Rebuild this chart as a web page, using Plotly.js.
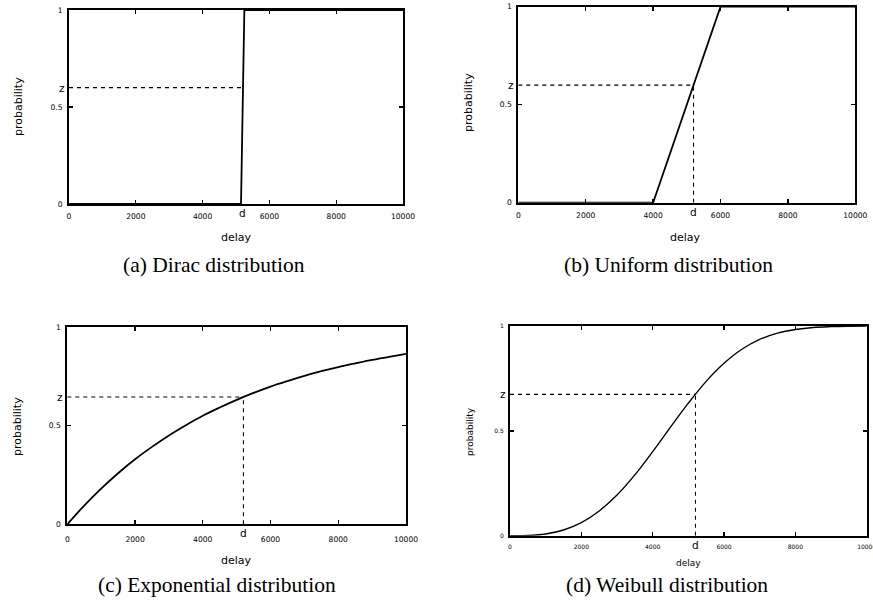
<!DOCTYPE html>
<html>
<head>
<meta charset="utf-8">
<script src="https://cdn.plot.ly/plotly-3.0.1.min.js"></script>
<style>html,body{margin:0;padding:0;background:#fff;overflow:hidden;}#chart{width:873px;height:609px;}</style>
</head>
<body>
<div id="chart"></div>
<script>
// ---- data ----
const diracX = [0, 5150, 5250, 10000];
const diracY = [0, 0, 1, 1];
const uniformX = [0, 4000, 6000, 10000];
const uniformY = [0, 0, 1, 1];
const expX = [0, 500, 1000, 1500, 2000, 2500, 3000, 3500, 4000, 4500, 5000, 5500, 6000, 6500, 7000, 7500, 8000, 8500, 9000, 9500, 10000];
const expY = [0, 0.095, 0.181, 0.259, 0.330, 0.393, 0.451, 0.503, 0.551, 0.593, 0.632, 0.667, 0.699, 0.727, 0.753, 0.777, 0.798, 0.817, 0.835, 0.850, 0.865];
const weibullX = [0, 500, 1000, 1500, 2000, 2500, 3000, 3500, 4000, 4500, 5000, 5500, 6000, 6500, 7000, 7500, 8000, 8500, 9000, 9500, 10000];
const weibullY = [0, 0.001, 0.008, 0.027, 0.062, 0.118, 0.194, 0.290, 0.401, 0.518, 0.632, 0.736, 0.822, 0.889, 0.936, 0.966, 0.983, 0.993, 0.997, 0.999, 1.0];
const dValues = [5200, 5200, 5200, 5200];
const zValues = [0.6, 0.6, 0.6465, 0.674];
const captions = ["(a) Dirac distribution", "(b) Uniform distribution", "(c) Exponential distribution", "(d) Weibull distribution"];
const xTickVals = [0, 2000, 4000, 6000, 8000, 10000];
const xTickText = ["0", "2000", "4000", "6000", "8000", "10000"];
const yTickVals = [0, 0.5, 1];
const yTickText = ["0", "0.5", "1"];
const xTitle = "delay";
const yTitle = "probability";

// ---- layout helpers ----
const W = 873, H = 609;
const px = v => v / W;
const py = v => 1 - v / H;

// plot boxes in pixels: [left, right, top, bottom]
const boxes = [
  [69, 403, 10, 204],
  [518.3, 855.3, 6.7, 202.7],
  [67.3, 406, 327.3, 524.3],
  [510, 866.7, 326, 535.7]
];
const tickFont = [7.6, 7.6, 7.6, 6];
const titleFont = [11, 11, 11, 9];
const curveW = [1.8, 1.8, 1.8, 1.4];
const yLabPos = [[18, 107], [468, 103], [17, 427], [470, 432]];
const xLabPos = [[237, 238], [685, 238], [237, 560], [688, 563]];
const capPos = [[214, 265], [668, 265], [217, 585], [667, 585]];
const xStand = [4, 4, 7, 4];

const curves = [[diracX, diracY], [uniformX, uniformY], [expX, expY], [weibullX, weibullY]];
const traces = [];
const layout = {
  width: W, height: H,
  margin: {l: 0, r: 0, t: 0, b: 0},
  paper_bgcolor: "#fff", plot_bgcolor: "#fff",
  showlegend: false,
  font: {family: "DejaVu Sans", color: "#000"},
  annotations: []
};

for (let i = 0; i < 4; i++) {
  const n = i === 0 ? "" : String(i + 1);
  const xa = "x" + n, ya = "y" + n;
  const b = boxes[i];
  const d = dValues[i], z = zValues[i];
  // curve
  traces.push({x: curves[i][0], y: curves[i][1], xaxis: xa, yaxis: ya, mode: "lines",
    line: {color: "#000", width: curveW[i], shape: i >= 2 ? "spline" : "linear"}, hoverinfo: "skip"});
  // dashed horizontal
  traces.push({x: [0, d], y: [z, z], xaxis: xa, yaxis: ya, mode: "lines",
    line: {color: "#000", width: 1.1, dash: "4px,4px"}, hoverinfo: "skip"});
  // dashed vertical (not for Dirac)
  if (i > 0) {
    traces.push({x: [d, d], y: [0, z], xaxis: xa, yaxis: ya, mode: "lines",
      line: {color: "#000", width: 1.1, dash: "4px,4px"}, hoverinfo: "skip"});
  }
  const axCommon = {
    showgrid: false, zeroline: false, showline: true, linecolor: "#000", linewidth: 2,
    mirror: "ticks", ticks: "inside", ticklen: 4, tickwidth: 1.3, tickcolor: "#000",
    tickfont: {family: "DejaVu Sans", size: tickFont[i], color: "#000"},
    ticklabeloverflow: "allow",
    fixedrange: true
  };
  layout["xaxis" + n] = Object.assign({}, axCommon, {
    domain: [px(b[0]), px(b[1])], anchor: ya, range: [0, 10000],
    tickmode: "array", tickvals: xTickVals, ticktext: xTickText, ticklabelstandoff: xStand[i]
  });
  layout["yaxis" + n] = Object.assign({}, axCommon, {
    domain: [py(b[3]), py(b[2])], anchor: xa, range: [0, 1],
    tickmode: "array", tickvals: yTickVals, ticktext: yTickText, ticklabelstandoff: 3
  });
  // z and d labels
  layout.annotations.push({text: "z", xref: xa + " domain", yref: ya, x: 0, y: z,
    xanchor: "right", yanchor: "middle", xshift: -2, showarrow: false,
    font: {family: "DejaVu Sans", size: 10.5, color: "#000"}});
  layout.annotations.push({text: "d", xref: xa, yref: ya + " domain", x: d, y: 0,
    xanchor: "center", yanchor: "top", yshift: -1, showarrow: false,
    font: {family: "DejaVu Sans", size: 10.5, color: "#000"}});
  // axis titles
  layout.annotations.push({text: yTitle, xref: "paper", yref: "paper", x: px(yLabPos[i][0]), y: py(yLabPos[i][1]),
    xanchor: "center", yanchor: "middle", textangle: -90, showarrow: false,
    font: {family: "DejaVu Sans", size: titleFont[i], color: "#000"}});
  layout.annotations.push({text: xTitle, xref: "paper", yref: "paper", x: px(xLabPos[i][0]), y: py(xLabPos[i][1]),
    xanchor: "center", yanchor: "middle", showarrow: false,
    font: {family: "DejaVu Sans", size: titleFont[i], color: "#000"}});
  // caption
  layout.annotations.push({text: captions[i], xref: "paper", yref: "paper", x: px(capPos[i][0]), y: py(capPos[i][1]),
    xanchor: "center", yanchor: "middle", showarrow: false,
    font: {family: "Liberation Serif", size: 21.5, color: "#000"}});
}

Plotly.newPlot("chart", traces, layout, {staticPlot: true, displayModeBar: false});
</script>
</body>
</html>
